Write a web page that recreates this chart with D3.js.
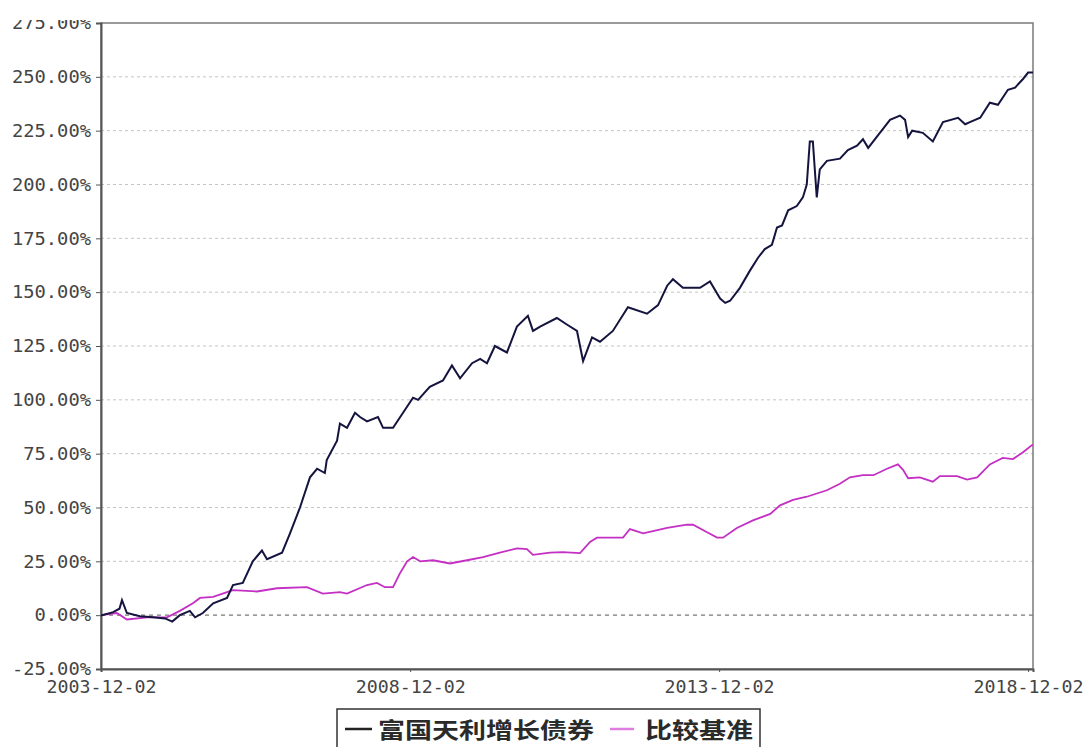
<!DOCTYPE html>
<html>
<head>
<meta charset="utf-8">
<script src="https://cdn.jsdelivr.net/npm/d3@7"></script>
<style>
  body { margin: 0; background: #fff; }
  svg { display: block; }
</style>
</head>
<body>
<div id="chart"></div>
<script>
// values, percent cumulative return
const fundDates = ["2003-12-02","2003-12-08","2004-02-12","2004-03-20","2004-04-04","2004-05-03","2004-07-19","2004-10-05","2004-12-15","2005-01-26",
  "2005-03-12","2005-05-10","2005-06-10","2005-07-26","2005-09-25","2005-12-16","2006-01-20","2006-03-19","2006-05-17","2006-07-10",
  "2006-08-09","2006-11-06","2006-12-23","2007-02-20","2007-04-20","2007-06-01","2007-07-17","2007-07-28","2007-09-27","2007-10-14",
  "2007-11-25","2008-01-11","2008-02-10","2008-03-22","2008-05-26","2008-06-25","2008-08-23","2008-10-21","2008-12-19","2009-01-18",
  "2009-03-28","2009-06-14","2009-08-06","2009-09-23","2009-12-03","2010-01-20","2010-03-01","2010-04-17","2010-06-27","2010-08-25",
  "2010-10-29","2010-11-28","2011-01-09","2011-04-18","2011-06-16","2011-08-15","2011-09-20","2011-11-12","2011-12-29","2012-03-14",
  "2012-06-11","2012-10-02","2012-12-06","2013-01-29","2013-03-04","2013-05-02","2013-08-11","2013-10-09","2013-12-08","2014-01-07",
  "2014-02-05","2014-04-04","2014-06-02","2014-07-20","2014-08-29","2014-10-10","2014-11-09","2014-12-09","2015-01-14","2015-03-06",
  "2015-04-11","2015-05-04","2015-05-22","2015-06-09","2015-07-02","2015-07-20","2015-08-31","2015-11-16","2016-01-02","2016-02-25",
  "2016-03-31","2016-05-01","2016-07-09","2016-09-07","2016-11-05","2016-12-05","2016-12-23","2017-01-16","2017-03-20","2017-05-18",
  "2017-07-17","2017-10-14","2017-11-25","2017-12-23","2018-02-22","2018-04-20","2018-06-07","2018-08-05","2018-09-16","2018-11-02",
  "2018-12-02","2018-12-31"];
const fundValues = [0,0,1.4,3,7,1,-0.5,-1,-1.5,-3,
  0,2,-1,1,5.5,8,14,15,25,30,
  26,29,38,50,64,68,66,72,81,89,
  87,94,92,90,92,87,87,94,101,100,
  106,109,116,110,117,119,117,125,122,134,
  139,132,134,138,135,132,118,129,127,132,
  143,140,144,153,156,152,152,155,147,145,
  146,152,160,166,170,172,180,181,188,190,
  194,200,220,220,194,207,211,212,216,218,
  221,217,224,230,232,230,222,225,224,220,
  229,231,228,229,231,238,237,244,245,249,
  252,252];

const benchDates = ["2003-12-02","2004-03-05","2004-05-03","2004-08-30","2004-12-26","2005-03-12","2005-05-28","2005-07-09","2005-09-25","2005-12-16",
  "2006-01-20","2006-06-11","2006-10-07","2007-04-02","2007-07-05","2007-10-14","2007-11-25","2008-03-22","2008-05-20","2008-07-06",
  "2008-08-23","2008-10-03","2008-11-14","2008-12-19","2009-01-30","2009-04-16","2009-07-25","2009-11-03","2010-02-06","2010-05-16",
  "2010-08-25","2010-10-23","2010-11-28","2011-03-08","2011-05-23","2011-09-02","2011-10-31","2011-12-11","2012-05-13","2012-06-23",
  "2012-09-09","2013-01-29","2013-05-26","2013-07-01","2013-09-22","2013-11-20","2013-12-25","2014-03-17","2014-06-20","2014-09-30",
  "2014-11-27","2015-02-12","2015-05-04","2015-08-31","2015-11-16","2016-01-14","2016-03-31","2016-06-01","2016-08-20","2016-10-24",
  "2016-11-23","2016-12-23","2017-03-02","2017-05-18","2017-06-29","2017-10-08","2017-12-06","2018-02-04","2018-04-20","2018-07-05",
  "2018-09-04","2018-11-02","2018-12-25","2018-12-31"];
const benchValues = [0,1,-2,-1,-1,2,5.5,8,8.5,10.7,
  11.6,11,12.5,13,10,10.7,10,14,15,13,
  13,19.5,25,27,25,25.5,24,25.5,27,29,
  31,30.7,28,29,29.3,28.8,34,36,36,40,
  38,40.5,42,42,38.5,36,36,40.5,44,47,
  51,53.5,55,58,61,64,65,65,68,70,
  67.5,63.6,64,62,64.6,64.6,63,64,70,73,
  72.5,75.7,79,79];

const xTicks = ["2003-12-02","2008-12-02","2013-12-02","2018-12-02"];
const yTicks = [-25,0,25,50,75,100,125,150,175,200,225,250,275];
const seriesNames = ["富国天利增长债券","比较基准"];

const W = 1085, H = 747;
const plotLeft = 101, plotRight = 1033, plotTop = 23, plotBottom = 669;
const parse = d3.timeParse("%Y-%m-%d");

const x = d3.scaleTime()
  .domain([parse("2003-12-02"), parse("2018-12-31")])
  .range([plotLeft, plotRight]);
const y = d3.scaleLinear().domain([-25, 275]).range([plotBottom, plotTop]);

const svg = d3.select("#chart").append("svg")
  .attr("width", W).attr("height", H);

const defs = svg.append("defs");
defs.append("clipPath").attr("id", "plot")
  .append("rect").attr("x", plotLeft).attr("y", plotTop)
  .attr("width", plotRight - plotLeft).attr("height", plotBottom - plotTop);
// top label is cut off in the reference
defs.append("clipPath").attr("id", "page")
  .append("rect").attr("x", -200).attr("y", 20).attr("width", W + 200).attr("height", H);

// gridlines
svg.append("g").selectAll("line")
  .data(yTicks.filter(d => d > -25 && d < 275))
  .join("line")
    .attr("x1", plotLeft).attr("x2", plotRight)
    .attr("y1", d => y(d)).attr("y2", d => y(d))
    .attr("stroke", d => d === 0 ? "#777" : "#c4c4c4")
    .attr("stroke-width", d => d === 0 ? 1.2 : 1)
    .attr("stroke-dasharray", d => d === 0 ? "4,4" : "3,3");

// frame
svg.append("rect")
  .attr("x", plotLeft).attr("y", plotTop)
  .attr("width", plotRight - plotLeft).attr("height", plotBottom - plotTop)
  .attr("fill", "none").attr("stroke", "#7a7a7a").attr("stroke-width", 1.5);

// text is stretched sideways in the reference, so fix its width
const stretch = (sel, perChar) => sel.each(function () {
  const t = d3.select(this);
  t.attr("textLength", t.text().length * perChar).attr("lengthAdjust", "spacingAndGlyphs");
});

// y axis
const yAxis = svg.append("g")
  .attr("transform", `translate(${plotLeft},0)`)
  .attr("clip-path", "url(#page)")
  .call(d3.axisLeft(y).tickValues(yTicks).tickSize(5).tickPadding(5)
    .tickFormat(d => d.toFixed(2) + "%"));
yAxis.select(".domain").attr("stroke", "#555").attr("stroke-width", 2);
yAxis.selectAll(".tick line").attr("stroke", "#555");
yAxis.selectAll("text")
  .attr("font-family", "'DejaVu Sans Mono', monospace")
  .attr("font-size", 18).attr("fill", "#444")
  .call(stretch, 11.3);

// x axis
const xAxis = svg.append("g")
  .attr("transform", `translate(0,${plotBottom})`)
  .call(d3.axisBottom(x).tickValues(xTicks.map(parse)).tickSize(3).tickPadding(8)
    .tickFormat(d3.timeFormat("%Y-%m-%d")));
xAxis.select(".domain").attr("stroke", "#555").attr("stroke-width", 2);
xAxis.selectAll(".tick line").attr("stroke", "#555");
xAxis.selectAll("text")
  .attr("font-family", "'DejaVu Sans Mono', monospace")
  .attr("font-size", 18).attr("fill", "#444")
  .call(stretch, 11);

// lines
const line = d3.line().x(d => x(d[0])).y(d => y(d[1]));
const plot = svg.append("g").attr("clip-path", "url(#plot)");

plot.append("path")
  .datum(benchDates.map((d, i) => [parse(d), benchValues[i]]))
  .attr("fill", "none").attr("stroke", "#c42fc4").attr("stroke-width", 1.8)
  .attr("d", line);

plot.append("path")
  .datum(fundDates.map((d, i) => [parse(d), fundValues[i]]))
  .attr("fill", "none").attr("stroke", "#14143f").attr("stroke-width", 2)
  .attr("d", line);

// legend
const legend = svg.append("g");
legend.append("rect")
  .attr("x", 337).attr("y", 709).attr("width", 423).attr("height", 50)
  .attr("fill", "#fff").attr("stroke", "#333").attr("stroke-width", 1.5);
legend.append("line")
  .attr("x1", 345).attr("x2", 372).attr("y1", 729).attr("y2", 729)
  .attr("stroke", "#222").attr("stroke-width", 2.5);
legend.append("line")
  .attr("x1", 610).attr("x2", 634).attr("y1", 729).attr("y2", 729)
  .attr("stroke", "#e07de0").attr("stroke-width", 2.5);
legend.selectAll("text.name")
  .data(seriesNames)
  .join("text")
    .attr("class", "name")
    .attr("x", (d, i) => i === 0 ? 378 : 645)
    .attr("y", 738)
    .attr("font-family", "'Noto Sans CJK SC', sans-serif")
    .attr("font-weight", "bold")
    .attr("font-size", 22)
    .attr("fill", "#2a2a2a")
    .text(d => d)
    .call(stretch, 27);
</script>
</body>
</html>
